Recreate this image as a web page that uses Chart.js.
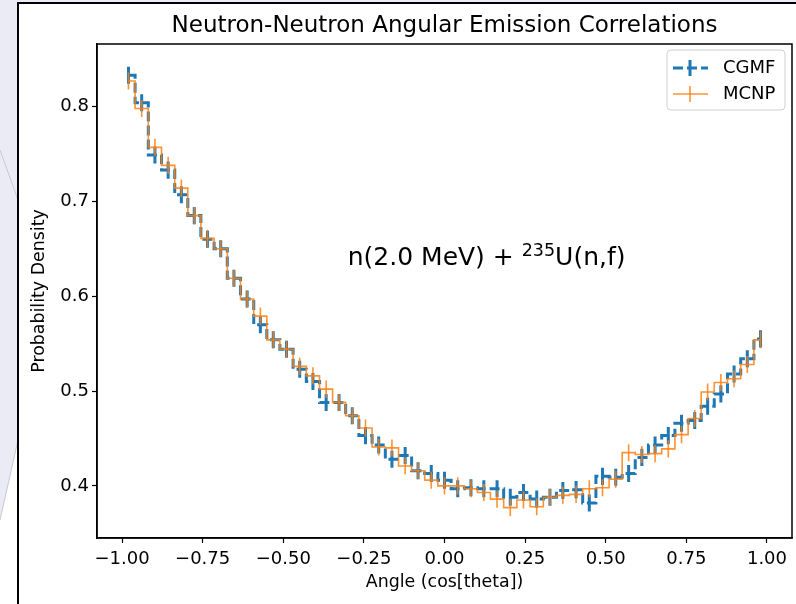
<!DOCTYPE html>
<html>
<head>
<meta charset="utf-8">
<script src="https://cdn.jsdelivr.net/npm/chart.js@4.4.1/dist/chart.umd.min.js"></script>
<style>
  html, body { margin: 0; padding: 0; background: #fff; }
  canvas { display: block; }
</style>
</head>
<body>
<canvas id="chart" width="796" height="604"></canvas>
<script>
// bin centres of cos(theta), 49 bins between -1 and 1
const binCenters = [
  -0.980, -0.939, -0.898, -0.857, -0.816, -0.776, -0.735, -0.694, -0.653, -0.612,
  -0.571, -0.531, -0.490, -0.449, -0.408, -0.367, -0.327, -0.286, -0.245, -0.204,
  -0.163, -0.122, -0.082, -0.041, 0.000, 0.041, 0.082, 0.122, 0.163, 0.204,
  0.245, 0.286, 0.327, 0.367, 0.408, 0.449, 0.490, 0.531, 0.571, 0.612,
  0.653, 0.694, 0.735, 0.776, 0.816, 0.857, 0.898, 0.939, 0.980
];

const cgmf = [
  0.833, 0.804, 0.749, 0.733, 0.707, 0.685, 0.660, 0.650, 0.619, 0.597,
  0.570, 0.554, 0.544, 0.523, 0.510, 0.488, 0.488, 0.474, 0.453, 0.443,
  0.428, 0.432, 0.416, 0.413, 0.406, 0.397, 0.398, 0.397, 0.397, 0.388,
  0.393, 0.386, 0.388, 0.395, 0.396, 0.382, 0.410, 0.409, 0.413, 0.430,
  0.443, 0.453, 0.466, 0.469, 0.484, 0.497, 0.518, 0.534, 0.555
];

const mcnp = [
  0.827, 0.798, 0.757, 0.738, 0.714, 0.685, 0.661, 0.650, 0.619, 0.597,
  0.579, 0.554, 0.544, 0.526, 0.516, 0.502, 0.488, 0.474, 0.461, 0.441,
  0.440, 0.421, 0.416, 0.406, 0.400, 0.400, 0.397, 0.393, 0.386, 0.377,
  0.385, 0.378, 0.388, 0.390, 0.391, 0.397, 0.398, 0.407, 0.435, 0.433,
  0.434, 0.439, 0.454, 0.471, 0.499, 0.509, 0.513, 0.528, 0.554
];

// half-length of the error bars (same for every bin)
const cgmfErr = 0.009;
const mcnpErr = 0.009;

const xTicks = [-1.0, -0.75, -0.5, -0.25, 0.0, 0.25, 0.5, 0.75, 1.0];
const yTicks = [0.4, 0.5, 0.6, 0.7, 0.8];

const BLUE = "#1f77b4";
const ORANGE = "rgba(255,127,14,0.85)";
const FONT = "'DejaVu Sans', sans-serif";
const minus = (s) => s.replace("-", "\u2212");

// --- slide background + outer frame ---
const backdropPlugin = {
  id: "backdrop",
  beforeDraw(chart) {
    const { ctx } = chart;
    ctx.save();
    ctx.fillStyle = "#fff";
    ctx.fillRect(0, 0, 796, 604);
    ctx.fillStyle = "#ebebf5";
    ctx.beginPath();
    ctx.moveTo(0, 0); ctx.lineTo(796, 0); ctx.lineTo(796, 3); ctx.lineTo(18, 3);
    ctx.lineTo(18, 440); ctx.lineTo(0, 520);
    ctx.closePath();
    ctx.fill();
    ctx.strokeStyle = "#c8c8d2";
    ctx.lineWidth = 1;
    ctx.beginPath();
    ctx.moveTo(0, 150); ctx.lineTo(18, 200);
    ctx.moveTo(18, 440); ctx.lineTo(0, 520);
    ctx.stroke();
    ctx.strokeStyle = "#000";
    ctx.lineWidth = 2;
    ctx.beginPath();
    ctx.moveTo(18, 604); ctx.lineTo(18, 3); ctx.lineTo(796, 3);
    ctx.stroke();
    ctx.restore();
  }
};

// --- vertical error bars, drawn right after each dataset ---
const errorBarPlugin = {
  id: "errbars",
  afterDatasetDraw(chart, args) {
    const ds = chart.data.datasets[args.index];
    const xs = chart.scales.x, ys = chart.scales.y;
    const { ctx, chartArea: a } = chart;
    ctx.save();
    ctx.beginPath();
    ctx.rect(a.left, a.top, a.right - a.left, a.bottom - a.top);
    ctx.clip();
    ctx.strokeStyle = ds.borderColor;
    ctx.lineWidth = ds.errWidth;
    ctx.beginPath();
    ds.data.forEach(p => {
      const px = xs.getPixelForValue(p.x);
      ctx.moveTo(px, ys.getPixelForValue(p.y - ds.err));
      ctx.lineTo(px, ys.getPixelForValue(p.y + ds.err));
    });
    ctx.stroke();
    ctx.restore();
  }
};

// --- title, axes box, legend, annotation ---
const decorPlugin = {
  id: "decor",
  afterDraw(chart) {
    const { ctx, chartArea: a } = chart;
    const xs = chart.scales.x, ys = chart.scales.y;
    ctx.save();

    ctx.strokeStyle = "#000";
    ctx.lineWidth = 1.5;
    ctx.strokeRect(a.left, a.top, a.right - a.left, a.bottom - a.top);

    ctx.fillStyle = "#000";
    ctx.font = "23px " + FONT;
    ctx.textAlign = "center";
    ctx.textBaseline = "alphabetic";
    ctx.fillText("Neutron-Neutron Angular Emission Correlations", (a.left + a.right) / 2, 32);

    // annotation
    const tx = xs.getPixelForValue(-0.3), ty = ys.getPixelForValue(0.633);
    ctx.textAlign = "left";
    ctx.font = "25px " + FONT;
    const s1 = "n(2.0 MeV) + ";
    ctx.fillText(s1, tx, ty);
    let cx = tx + ctx.measureText(s1).width;
    ctx.font = "17.5px " + FONT;
    ctx.fillText("235", cx, ty - 9);
    cx += ctx.measureText("235").width;
    ctx.font = "25px " + FONT;
    ctx.fillText("U(n,f)", cx, ty);

    // legend
    const lx = 667, ly = 50, lw = 118, lh = 60;
    ctx.beginPath();
    ctx.roundRect(lx, ly, lw, lh, 4);
    ctx.fillStyle = "rgba(255,255,255,0.8)";
    ctx.fill();
    ctx.strokeStyle = "#d0d0d0";
    ctx.lineWidth = 1;
    ctx.stroke();
    const rows = [
      { ds: chart.data.datasets[0], y: 68 },
      { ds: chart.data.datasets[1], y: 94 }
    ];
    rows.forEach(r => {
      ctx.strokeStyle = r.ds.borderColor;
      ctx.lineWidth = r.ds.borderWidth;
      ctx.setLineDash(r.ds.borderDash || []);
      ctx.beginPath();
      ctx.moveTo(673, r.y); ctx.lineTo(708, r.y);
      ctx.stroke();
      ctx.setLineDash([]);
      ctx.lineWidth = r.ds.errWidth;
      ctx.beginPath();
      ctx.moveTo(690, r.y - 8); ctx.lineTo(690, r.y + 8);
      ctx.stroke();
      ctx.fillStyle = "#000";
      ctx.font = "18px " + FONT;
      ctx.textBaseline = "middle";
      ctx.fillText(r.ds.label, 723, r.y);
    });
    ctx.restore();
  }
};

const ctx = document.getElementById("chart").getContext("2d");
new Chart(ctx, {
  type: "line",
  data: {
    datasets: [
      {
        label: "CGMF",
        data: binCenters.map((x, i) => ({ x, y: cgmf[i] })),
        err: cgmfErr, errWidth: 3,
        borderColor: BLUE, borderWidth: 3, borderDash: [10, 4],
        stepped: "middle", pointRadius: 0, fill: false, order: 2
      },
      {
        label: "MCNP",
        data: binCenters.map((x, i) => ({ x, y: mcnp[i] })),
        err: mcnpErr, errWidth: 1.6,
        borderColor: ORANGE, borderWidth: 1.6,
        stepped: "middle", pointRadius: 0, fill: false, order: 1
      }
    ]
  },
  options: {
    responsive: false,
    animation: false,
    layout: { padding: { left: 0, top: 44, right: 4, bottom: 0 } },
    plugins: { legend: { display: false }, tooltip: { enabled: false }, title: { display: false } },
    scales: {
      x: {
        type: "linear", min: -1.0776, max: 1.0776,
        afterBuildTicks: (s) => { s.ticks = xTicks.map(v => ({ value: v })); },
        afterFit: (s) => { s.height = 66; },
        ticks: {
          color: "#000", font: { family: FONT, size: 18 }, padding: 6,
          maxRotation: 0, autoSkip: false,
          callback: (v) => minus(v.toFixed(2))
        },
        grid: { display: true, drawOnChartArea: false, color: "#000", tickLength: 5, tickWidth: 1.2 },
        border: { display: true, color: "#000", width: 1.5 },
        title: { display: true, text: "Angle (cos[theta])", color: "#000",
                 font: { family: FONT, size: 17.4 }, padding: { top: 0, bottom: 11 } }
      },
      y: {
        type: "linear", min: 0.345, max: 0.866,
        afterBuildTicks: (s) => { s.ticks = yTicks.map(v => ({ value: v })); },
        afterFit: (s) => { s.width = 97; },
        ticks: {
          color: "#000", font: { family: FONT, size: 18 }, padding: 3,
          callback: (v) => v.toFixed(1)
        },
        grid: { display: true, drawOnChartArea: false, color: "#000", tickLength: 5, tickWidth: 1.2 },
        border: { display: true, color: "#000", width: 1.5 },
        title: { display: true, text: "Probability Density", color: "#000",
                 font: { family: FONT, size: 17.4 }, padding: { top: 29, bottom: 0 } }
      }
    }
  },
  plugins: [backdropPlugin, errorBarPlugin, decorPlugin]
});
</script>
</body>
</html>
